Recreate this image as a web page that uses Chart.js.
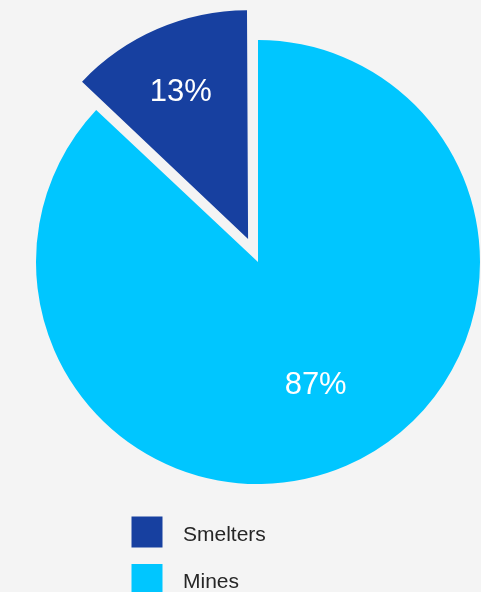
<!DOCTYPE html>
<html>
<head>
<meta charset="utf-8">
<script src="https://cdn.jsdelivr.net/npm/chart.js@4/dist/chart.umd.min.js"></script>
<style>
  html, body { margin: 0; padding: 0; background: #f4f4f4; }
  #wrap { width: 481px; height: 592px; position: relative; }
</style>
</head>
<body>
<div id="wrap"><canvas id="c" width="481" height="592"></canvas></div>
<script>
const categories = ['Smelters', 'Mines'];
const values = [13, 87];
const colors = ['#1740a0', '#00c6ff'];

const total = values.reduce((a, b) => a + b, 0);

const labelPlugin = {
  id: 'sliceLabels',
  afterDatasetsDraw(chart, args, opts) {
    const ctx = chart.ctx;
    const meta = chart.getDatasetMeta(0);
    ctx.save();
    ctx.fillStyle = '#ffffff';
    ctx.font = '31px "Liberation Sans", Arial, sans-serif';
    ctx.textAlign = 'center';
    ctx.textBaseline = 'middle';
    meta.data.forEach((arc, i) => {
      const p = arc.getProps(['x', 'y', 'startAngle', 'endAngle', 'outerRadius', 'circumference']);
      const mid = (p.startAngle + p.endAngle) / 2;
      const off = (arc.options.offset || 0) / 4;
      const fix = 1 - Math.sin(Math.min(Math.PI, p.circumference || 0));
      const t = off * (1 + fix);
      const cx = p.x + Math.cos(mid) * t;
      const cy = p.y + Math.sin(mid) * t;
      const a = mid + opts.shifts[i] * Math.PI / 180;
      const r = p.outerRadius * opts.ratios[i];
      const pct = Math.round(values[i] / total * 100) + '%';
      ctx.fillText(pct, cx + Math.cos(a) * r, cy + Math.sin(a) * r + 1);
    });
    ctx.restore();
  }
};

const legendPlugin = {
  id: 'stackedLegend',
  afterDraw(chart, args, opts) {
    const ctx = chart.ctx;
    ctx.save();
    ctx.font = '21px "Liberation Sans", Arial, sans-serif';
    ctx.textAlign = 'left';
    ctx.textBaseline = 'alphabetic';
    categories.forEach((name, i) => {
      const y = opts.top + i * opts.step;
      ctx.fillStyle = colors[i];
      ctx.fillRect(opts.left, y, opts.box, opts.box);
      ctx.fillStyle = '#262626';
      ctx.fillText(name, opts.textX, y + opts.baseline);
    });
    ctx.restore();
  }
};

new Chart(document.getElementById('c'), {
  type: 'pie',
  data: {
    labels: categories,
    datasets: [{
      data: values,
      backgroundColor: colors,
      borderWidth: 0,
      offset: [100, 0],
      hoverOffset: 0,
      clip: false
    }]
  },
  options: {
    responsive: false,
    animation: false,
    events: [],
    radius: 222,
    rotation: -360 * values[0] / total,
    layout: { padding: { left: 35, right: 0, top: 10, bottom: 78 } },
    plugins: {
      legend: { display: false },
      tooltip: { enabled: false },
      sliceLabels: { ratios: [0.70, 0.61], shifts: [-1.2, -1.8] },
      stackedLegend: { left: 131.5, top: 516.5, step: 47.5, box: 31, textX: 183, baseline: 24 }
    }
  },
  plugins: [labelPlugin, legendPlugin]
});
</script>
</body>
</html>
